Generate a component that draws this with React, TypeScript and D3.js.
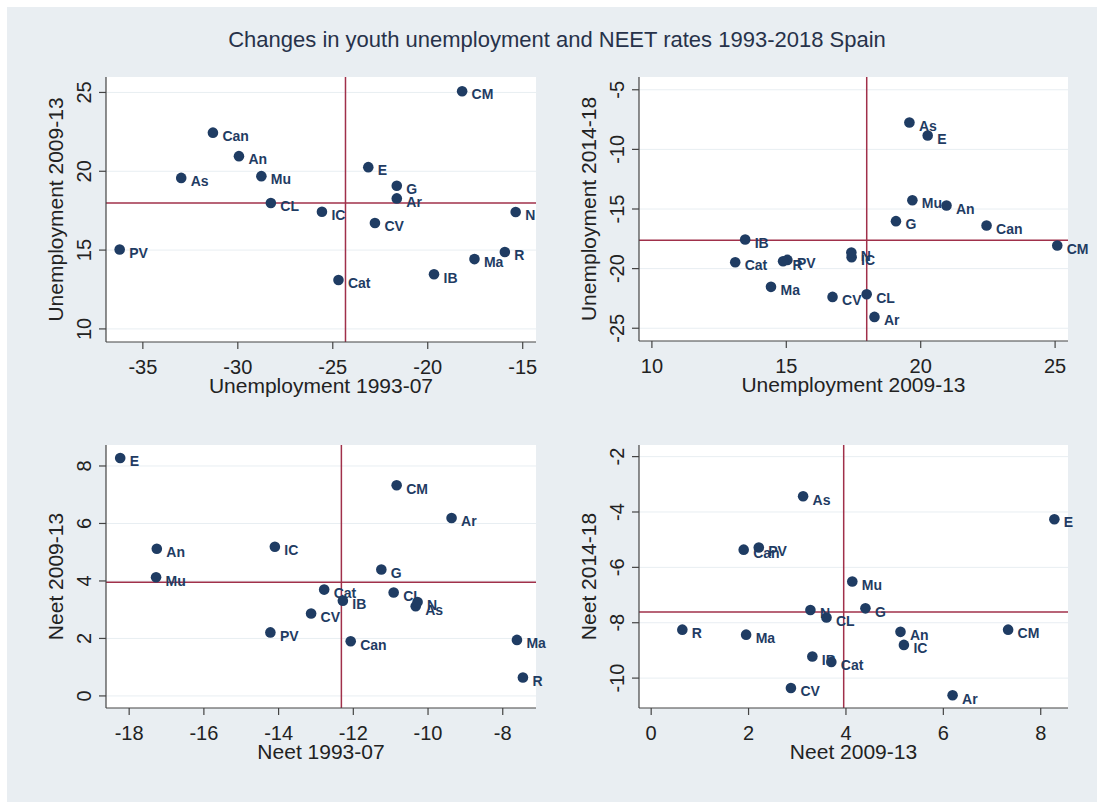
import React from "react";
import * as d3 from "d3";

// regions (Spanish autonomous communities, abbreviated as in the source)
const regions = ["PV", "As", "Can", "An", "Mu", "CL", "IC", "Cat", "E", "CV", "G", "Ar", "IB", "Ma", "R", "N", "CM"];

// youth unemployment change, by period
const unemp9307 = [-36.22, -32.98, -31.31, -29.94, -28.76, -28.26, -25.57, -24.7, -23.13, -22.78, -21.63, -21.63, -19.67, -17.54, -15.94, -15.37, -18.19];
const unemp0913 = [15.04, 19.58, 22.45, 20.96, 19.69, 17.99, 17.43, 13.1, 20.26, 16.72, 19.08, 18.28, 13.47, 14.43, 14.88, 17.42, 25.08];
const unemp1418 = [-19.27, -7.74, -16.38, -14.71, -14.26, -22.15, -19.04, -19.46, -8.83, -22.37, -16.02, -24.05, -17.56, -21.53, -19.38, -18.65, -18.06];

// NEET rate change, by period
const neet9307 = [-14.22, -10.33, -12.07, -17.26, -17.28, -10.92, -14.1, -12.78, -18.24, -13.13, -11.25, -9.37, -12.28, -7.62, -7.46, -10.28, -10.84];
const neet0913 = [2.21, 3.12, 1.9, 5.12, 4.13, 3.6, 5.19, 3.7, 8.28, 2.87, 4.4, 6.19, 3.31, 1.95, 0.64, 3.27, 7.33];
const neet1418 = [-5.28, -3.43, -5.36, -8.33, -6.51, -7.81, -8.8, -9.42, -4.26, -10.36, -7.48, -10.62, -9.22, -8.43, -8.25, -7.54, -8.25];

const title = "Changes in youth unemployment and NEET rates 1993-2018 Spain";

const NAVY = "#1f3c63";
const RED = "#a0304a";
const FONT = "'Liberation Sans', Arial, Helvetica, sans-serif";

type Box = { l: number; r: number; t: number; b: number };

function Panel({ xs, ys, box, xDom, yDom, xTicks, yTicks, xTitle, yTitle }: any) {
  const { l, r, t, b } = box as Box;
  const x = d3.scaleLinear().domain(xDom).range([l, r]);
  const y = d3.scaleLinear().domain(yDom).range([b, t]);
  const mx = d3.mean(xs as number[]) as number;
  const my = d3.mean(ys as number[]) as number;

  return (
    <g>
      <rect x={l} y={t} width={r - l} height={b - t} fill="#fff" />
      {yTicks.map((v: number) => (
        <line key={"g" + v} x1={l} x2={r} y1={y(v)} y2={y(v)} stroke="#e8eef2" strokeWidth={1} />
      ))}
      <line x1={x(mx)} x2={x(mx)} y1={t} y2={b} stroke={RED} strokeWidth={1.5} />
      <line x1={l} x2={r} y1={y(my)} y2={y(my)} stroke={RED} strokeWidth={1.5} />

      {/* axes */}
      <line x1={l} x2={l} y1={t} y2={b} stroke="#444" strokeWidth={1.2} />
      <line x1={l} x2={r} y1={b} y2={b} stroke="#444" strokeWidth={1.2} />
      {yTicks.map((v: number) => (
        <g key={"y" + v}>
          <line x1={l - 7} x2={l} y1={y(v)} y2={y(v)} stroke="#444" strokeWidth={1.2} />
          <text
            transform={`translate(${l - 15},${y(v)}) rotate(-90)`}
            textAnchor="middle"
            fontSize={20}
            fill="#222"
          >
            {v}
          </text>
        </g>
      ))}
      {xTicks.map((v: number) => (
        <g key={"x" + v}>
          <line x1={x(v)} x2={x(v)} y1={b} y2={b + 7} stroke="#444" strokeWidth={1.2} />
          <text x={x(v)} y={b + 32} textAnchor="middle" fontSize={20} fill="#222">
            {v}
          </text>
        </g>
      ))}
      <text x={(l + r) / 2} y={b + 51} textAnchor="middle" fontSize={21} fill="#222">
        {xTitle}
      </text>
      <text
        transform={`translate(${l - 43},${(t + b) / 2}) rotate(-90)`}
        textAnchor="middle"
        fontSize={21}
        fill="#222"
      >
        {yTitle}
      </text>

      {regions.map((name, i) => (
        <g key={name}>
          <circle cx={x(xs[i])} cy={y(ys[i])} r={5.3} fill={NAVY} />
          <text
            x={x(xs[i]) + 9.5}
            y={y(ys[i]) + 8.3}
            fontSize={14}
            fontWeight="bold"
            fill={NAVY}
          >
            {name}
          </text>
        </g>
      ))}
    </g>
  );
}

export default function App() {
  return (
    <div style={{ position: "absolute", left: 0, top: 0 }}>
      <svg width={1097} height={802} fontFamily={FONT} style={{ display: "block" }}>
        <rect x={0} y={0} width={1097} height={802} fill="#fff" />
        <rect x={7} y={7} width={1090} height={795} fill="#e9eef2" />
        <text x={557} y={47} textAnchor="middle" fontSize={22} fill="#27324a">
          {title}
        </text>

        <Panel
          xs={unemp9307}
          ys={unemp0913}
          box={{ l: 106, r: 536, t: 77, b: 342 }}
          xDom={[-36.94, -14.3]}
          yDom={[9.17, 25.98]}
          xTicks={[-35, -30, -25, -20, -15]}
          yTicks={[10, 15, 20, 25]}
          xTitle="Unemployment 1993-07"
          yTitle="Unemployment 2009-13"
        />
        <Panel
          xs={unemp0913}
          ys={unemp1418}
          box={{ l: 639, r: 1068, t: 77, b: 341 }}
          xDom={[9.52, 25.48]}
          yDom={[-26.07, -3.93]}
          xTicks={[10, 15, 20, 25]}
          yTicks={[-25, -20, -15, -10, -5]}
          xTitle="Unemployment 2009-13"
          yTitle="Unemployment 2014-18"
        />
        <Panel
          xs={neet9307}
          ys={neet0913}
          box={{ l: 106, r: 536, t: 445, b: 708 }}
          xDom={[-18.62, -7.11]}
          yDom={[-0.42, 8.73]}
          xTicks={[-18, -16, -14, -12, -10, -8]}
          yTicks={[0, 2, 4, 6, 8]}
          xTitle="Neet 1993-07"
          yTitle="Neet 2009-13"
        />
        <Panel
          xs={neet0913}
          ys={neet1418}
          box={{ l: 639, r: 1068, t: 445, b: 708 }}
          xDom={[-0.25, 8.56]}
          yDom={[-11.08, -1.58]}
          xTicks={[0, 2, 4, 6, 8]}
          yTicks={[-10, -8, -6, -4, -2]}
          xTitle="Neet 2009-13"
          yTitle="Neet 2014-18"
        />
      </svg>
    </div>
  );
}
